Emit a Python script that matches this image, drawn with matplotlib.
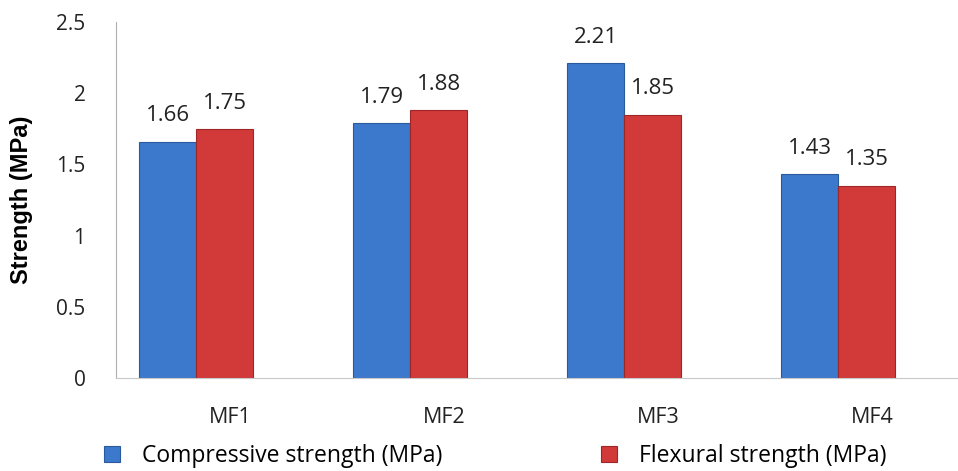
import matplotlib.pyplot as plt
import matplotlib.transforms as mtransforms
import numpy as np

# Datos
categories = ['MF1', 'MF2', 'MF3', 'MF4']
compressive = [1.66, 1.79, 2.21, 1.43]
flexural = [1.75, 1.88, 1.85, 1.35]

blue = '#3c78cc'
red = '#d23a3a'

fig = plt.figure(figsize=(9.58, 4.71), dpi=100)
ax = fig.add_axes([116 / 958, 1 - 378 / 471, 1 - 116 / 958, (378 - 22) / 471])

x = np.arange(len(categories))
w = 0.266

b1 = ax.bar(x - w / 2, compressive, w, color=blue, edgecolor='#2a5a9e', linewidth=0.8,
            label='Compressive strength (MPa)')
b2 = ax.bar(x + w / 2, flexural, w, color=red, edgecolor='#9e2626', linewidth=0.8,
            label='Flexural strength (MPa)')

# Etiquetas de valores
for bars, vals in ((b1, compressive), (b2, flexural)):
    for rect, v in zip(bars, vals):
        ax.annotate(f'{v:.2f}', (rect.get_x() + rect.get_width() / 2, v),
                    xytext=(0, 11), textcoords='offset points',
                    ha='center', va='bottom', fontsize=16, color='#222222',
                    family='Open Sans')

ax.set_xlim(-0.374, 3.56)
ax.set_ylim(0, 2.5)
ax.set_yticks([0, 0.5, 1, 1.5, 2, 2.5])
ax.set_yticklabels(['0', '0.5', '1', '1.5', '2', '2.5'], family='Open Sans', fontsize=15)
ax.set_xticks(x)
ax.set_xticklabels(categories, family='Open Sans', fontsize=15.5)
ax.tick_params(axis='both', length=0, colors='#222222')
ax.tick_params(axis='y', pad=22)
ax.tick_params(axis='x', pad=21)

# las etiquetas de categoría están desplazadas a la derecha en el original
shift = mtransforms.ScaledTranslation(0.34, 0, fig.dpi_scale_trans)
for lbl in ax.get_xticklabels():
    lbl.set_transform(lbl.get_transform() + shift)

for s in ('top', 'right'):
    ax.spines[s].set_visible(False)
ax.spines['left'].set_color('#b0b0b0')
ax.spines['bottom'].set_color('#c8c8c8')

ax.set_ylabel('Strength (MPa)', fontsize=17, fontweight='bold', family='Liberation Sans')
ax.yaxis.set_label_coords(-0.098, 0.5)

fig.legend(handles=[b1, b2], loc='lower left', bbox_to_anchor=(0.087, -0.037), ncol=2,
           frameon=False, handlelength=0.72, handleheight=0.72, handletextpad=0.95,
           columnspacing=6.9, prop={'family': 'Open Sans', 'size': 16.5})

fig.savefig('out.png', dpi=100)
